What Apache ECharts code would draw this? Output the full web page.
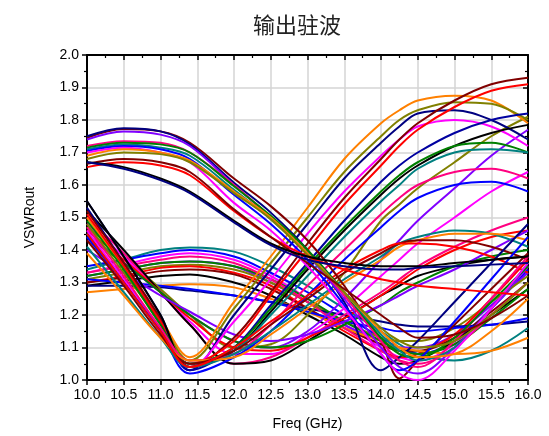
<!DOCTYPE html>
<html><head><meta charset="utf-8">
<script src="https://cdn.jsdelivr.net/npm/echarts@6/dist/echarts.min.js"></script>
<style>html,body{margin:0;padding:0;background:#fff}#c{width:549px;height:436px}</style>
</head><body><div id="c"></div>
<script>
const freq = [10, 10.5, 11, 11.4, 12, 12.5, 13, 13.5, 14, 14.25, 14.5, 15, 15.5, 16];
const yTicks = [1.0,1.1,1.2,1.3,1.4,1.5,1.6,1.7,1.8,1.9,2.0];
const xTicks = [10.0,10.5,11.0,11.5,12.0,12.5,13.0,13.5,14.0,14.5,15.0,15.5,16.0];

// family C: low hump, late dip
const c1  = [1.34,1.37,1.40,1.408,1.395,1.35,1.29,1.22,1.15,1.11,1.08,1.06,1.09,1.16];
const c2  = [1.35,1.37,1.39,1.40,1.38,1.33,1.27,1.20,1.13,1.10,1.08,1.12,1.22,1.34];
const c3  = [1.33,1.355,1.38,1.39,1.37,1.32,1.25,1.17,1.10,1.07,1.06,1.11,1.22,1.35];
const c4  = [1.32,1.34,1.36,1.365,1.35,1.30,1.24,1.17,1.12,1.10,1.10,1.14,1.23,1.33];
const c5  = [1.31,1.33,1.35,1.355,1.34,1.30,1.24,1.18,1.13,1.12,1.12,1.16,1.24,1.32];
const c6  = [1.30,1.32,1.345,1.35,1.33,1.29,1.22,1.15,1.09,1.07,1.08,1.14,1.25,1.37];
const c7  = [1.30,1.315,1.335,1.34,1.325,1.28,1.22,1.16,1.11,1.09,1.09,1.13,1.21,1.30];
const c8  = [1.29,1.305,1.32,1.325,1.30,1.26,1.20,1.14,1.07,1.05,1.06,1.12,1.20,1.28];
const c9  = [1.27,1.28,1.29,1.295,1.285,1.25,1.21,1.16,1.12,1.10,1.09,1.08,1.09,1.13];
const c10 = [1.29,1.29,1.285,1.275,1.26,1.24,1.22,1.20,1.18,1.17,1.165,1.165,1.17,1.18];
const c11 = [1.31,1.30,1.29,1.28,1.26,1.24,1.21,1.18,1.16,1.15,1.15,1.16,1.17,1.19];
const c12 = [1.32,1.34,1.36,1.365,1.35,1.31,1.25,1.18,1.12,1.09,1.08,1.11,1.19,1.28];
const c13 = [1.33,1.35,1.37,1.38,1.36,1.31,1.24,1.16,1.09,1.06,1.05,1.10,1.20,1.30];

// family D: dip near 12 GHz
const d1 = [1.47,1.38,1.28,1.20,1.10,1.11,1.20,1.33,1.49,1.54,1.59,1.67,1.75,1.81];
const d2 = [1.45,1.36,1.27,1.20,1.12,1.10,1.15,1.25,1.37,1.43,1.49,1.59,1.69,1.77];
const d3 = [1.48,1.38,1.27,1.18,1.08,1.08,1.14,1.22,1.32,1.37,1.42,1.50,1.58,1.64];
const d4 = [1.50,1.39,1.27,1.17,1.05,1.07,1.13,1.20,1.27,1.31,1.35,1.41,1.46,1.50];
const d5 = [1.52,1.40,1.27,1.17,1.05,1.06,1.12,1.19,1.26,1.29,1.32,1.35,1.37,1.38];
const d6 = [1.46,1.37,1.27,1.19,1.10,1.09,1.13,1.19,1.26,1.30,1.34,1.40,1.44,1.46];
const d7 = [1.44,1.36,1.27,1.20,1.12,1.10,1.12,1.17,1.23,1.27,1.30,1.35,1.38,1.40];
const d8 = [1.40,1.33,1.26,1.21,1.14,1.12,1.14,1.18,1.23,1.26,1.29,1.34,1.40,1.46];

// family B: dip near 11.4 GHz, high peak later
const b1  = [1.50,1.346,1.19,1.07,1.24,1.38,1.53,1.68,1.79,1.83,1.86,1.875,1.86,1.79];
const b2  = [1.48,1.33,1.18,1.06,1.22,1.36,1.50,1.64,1.75,1.80,1.83,1.855,1.85,1.80];
const b3  = [1.53,1.36,1.18,1.03,1.20,1.34,1.48,1.62,1.73,1.78,1.82,1.83,1.80,1.74];
const b4  = [1.46,1.31,1.16,1.04,1.18,1.31,1.45,1.58,1.69,1.74,1.78,1.80,1.78,1.72];
const b5  = [1.52,1.36,1.19,1.04,1.13,1.27,1.42,1.56,1.68,1.74,1.79,1.86,1.91,1.93];
const b6  = [1.51,1.35,1.18,1.05,1.12,1.26,1.40,1.54,1.66,1.72,1.77,1.84,1.89,1.91];
const b7  = [1.55,1.38,1.20,1.03,1.10,1.23,1.36,1.49,1.61,1.66,1.70,1.76,1.80,1.82];
const b8  = [1.55,1.38,1.20,1.04,1.09,1.21,1.34,1.46,1.57,1.62,1.66,1.72,1.76,1.785];
const b9  = [1.49,1.34,1.17,1.05,1.10,1.22,1.35,1.47,1.58,1.63,1.67,1.72,1.73,1.70];
const b10 = [1.45,1.30,1.15,1.05,1.09,1.20,1.32,1.44,1.55,1.60,1.65,1.70,1.71,1.70];
const b11 = [1.47,1.32,1.16,1.06,1.08,1.17,1.29,1.40,1.51,1.56,1.60,1.64,1.65,1.62];
const b12 = [1.44,1.30,1.15,1.02,1.07,1.15,1.26,1.37,1.47,1.52,1.56,1.60,1.61,1.58];
const b13 = [1.41,1.27,1.13,1.04,1.08,1.15,1.23,1.31,1.38,1.42,1.44,1.46,1.45,1.41];
const b14 = [1.39,1.26,1.13,1.06,1.07,1.14,1.22,1.30,1.37,1.41,1.43,1.45,1.45,1.43];
const b15 = [1.43,1.29,1.14,1.05,1.09,1.17,1.25,1.33,1.39,1.42,1.43,1.43,1.41,1.37];
const b16 = [1.45,1.30,1.15,1.04,1.10,1.18,1.26,1.34,1.40,1.42,1.42,1.41,1.38,1.33];

// family A: high start, dip near 14-14.5 GHz
const a1  = [1.745,1.772,1.765,1.73,1.62,1.535,1.43,1.29,1.12,1.005,1.06,1.17,1.28,1.39];
const a2  = [1.75,1.775,1.765,1.725,1.607,1.515,1.40,1.24,1.03,1.07,1.12,1.24,1.36,1.48];
const a3  = [1.74,1.765,1.755,1.72,1.60,1.50,1.385,1.25,1.10,1.04,1.02,1.10,1.22,1.35];
const a4  = [1.72,1.735,1.73,1.70,1.60,1.50,1.39,1.26,1.12,1.06,1.04,1.12,1.25,1.38];
const a5  = [1.715,1.73,1.725,1.70,1.596,1.505,1.40,1.27,1.13,1.08,1.07,1.13,1.24,1.35];
const a6  = [1.71,1.725,1.715,1.69,1.585,1.495,1.39,1.27,1.14,1.09,1.06,1.10,1.22,1.36];
const a7  = [1.705,1.72,1.71,1.68,1.57,1.48,1.37,1.23,1.08,1.03,1.06,1.18,1.31,1.44];
const a8  = [1.70,1.715,1.70,1.67,1.545,1.46,1.35,1.22,1.08,1.02,1.00,1.09,1.22,1.36];
const a9  = [1.69,1.71,1.70,1.675,1.58,1.50,1.39,1.27,1.15,1.10,1.07,1.08,1.15,1.25];
const a10 = [1.68,1.70,1.695,1.67,1.575,1.495,1.385,1.27,1.16,1.12,1.10,1.12,1.20,1.30];
const a11 = [1.655,1.67,1.66,1.63,1.52,1.44,1.38,1.34,1.31,1.30,1.29,1.28,1.27,1.26];
const a12 = [1.665,1.68,1.67,1.64,1.525,1.44,1.36,1.28,1.20,1.16,1.13,1.14,1.19,1.26];
const a13 = [1.67,1.655,1.62,1.58,1.49,1.42,1.38,1.36,1.35,1.35,1.35,1.36,1.37,1.38];
const a14 = [1.67,1.65,1.615,1.575,1.485,1.415,1.37,1.35,1.34,1.34,1.345,1.35,1.355,1.36];

const curves = [
  ['c1',c1,'#008080'],['c2',c2,'#0000FF'],['c3',c3,'#FF00FF'],['c4',c4,'#8000FF'],
  ['c5',c5,'#808000'],['c6',c6,'#FF0000'],['c7',c7,'#800000'],['c8',c8,'#000000'],
  ['c9',c9,'#FF8000'],['c10',c10,'#000080'],['c11',c11,'#0000FF'],['c12',c12,'#008000'],
  ['c13',c13,'#FF0080'],
  ['d1',d1,'#808000'],['d2',d2,'#8000FF'],['d3',d3,'#FF00FF'],['d4',d4,'#FF0080'],
  ['d5',d5,'#000000'],['d6',d6,'#FF0000'],['d7',d7,'#008000'],['d8',d8,'#8000FF'],
  ['b1',b1,'#FF8000'],['b2',b2,'#808000'],['b3',b3,'#000080'],['b4',b4,'#FF00FF'],
  ['b5',b5,'#800000'],['b6',b6,'#FF0000'],['b7',b7,'#0000A0'],['b8',b8,'#000000'],
  ['b9',b9,'#008000'],['b10',b10,'#008080'],['b11',b11,'#FF0080'],['b12',b12,'#0000FF'],
  ['b13',b13,'#008080'],['b14',b14,'#FF8000'],['b15',b15,'#800000'],['b16',b16,'#FF0000'],
  ['a1',a1,'#800000'],['a2',a2,'#000080'],['a3',a3,'#8000FF'],['a4',a4,'#FF0080'],
  ['a5',a5,'#008000'],['a6',a6,'#008080'],['a7',a7,'#0000FF'],['a8',a8,'#FF00FF'],
  ['a9',a9,'#FF8000'],['a10',a10,'#808000'],['a11',a11,'#FF0000'],['a12',a12,'#800000'],
  ['a13',a13,'#000000'],['a14',a14,'#000080']
];

const font = 'Liberation Sans, Arial, sans-serif';
const chart = echarts.init(document.getElementById('c'), null, {renderer:'canvas'});
const axisCommon = {
  type:'value',
  axisLine:{show:true, onZero:false, lineStyle:{color:'#000', width:2}},
  axisTick:{show:true, length:5, lineStyle:{color:'#000', width:1.5}},
  minorTick:{show:true, splitNumber:2, length:3, lineStyle:{color:'#000', width:1.2}},
};
chart.setOption({
  animation:false,
  backgroundColor:'#fff',
  title:{text:'输出驻波', left:248, top:9,
    textStyle:{fontFamily:'Noto Sans CJK SC', fontSize:22, fontWeight:'normal', color:'#222'}},
  grid:{left:87, right:21, top:55, bottom:55, containLabel:false},
  xAxis:[
    Object.assign({}, axisCommon, {position:'bottom', min:xTicks[0], max:xTicks[xTicks.length-1], interval:0.5,
      name:'Freq (GHz)', nameLocation:'middle', nameGap:37,
      nameTextStyle:{fontFamily:font, fontSize:14, color:'#000'},
      axisLabel:{fontFamily:font, fontSize:14, color:'#000', margin:8, formatter:v=>v.toFixed(1)},
      splitLine:{show:true, lineStyle:{color:'#d4d4d4', width:1.5}}}),
    Object.assign({}, axisCommon, {position:'top', min:xTicks[0], max:xTicks[xTicks.length-1], interval:0.5,
      axisTick:{show:true, inside:true, length:5, lineStyle:{color:'#000', width:1.5}},
      minorTick:{show:true, splitNumber:2, length:3, lineStyle:{color:'#000', width:1.2}},
      axisLabel:{show:false}, splitLine:{show:false}})
  ],
  yAxis:[
    Object.assign({}, axisCommon, {position:'left', min:yTicks[0], max:yTicks[yTicks.length-1], interval:0.1,
      name:'VSWRout', nameLocation:'middle', nameGap:50, nameRotate:90,
      nameTextStyle:{fontFamily:font, fontSize:14, color:'#000'},
      axisLabel:{fontFamily:font, fontSize:14, color:'#000', margin:8, formatter:v=>v.toFixed(1)},
      splitLine:{show:true, lineStyle:{color:'#d4d4d4', width:1.5}}}),
    Object.assign({}, axisCommon, {position:'right', min:yTicks[0], max:yTicks[yTicks.length-1], interval:0.1,
      axisTick:{show:true, inside:true, length:5, lineStyle:{color:'#000', width:1.5}},
      minorTick:{show:true, splitNumber:2, length:3, lineStyle:{color:'#000', width:1.2}},
      axisLabel:{show:false}, splitLine:{show:false}})
  ],
  series: curves.map(([n, vals, col]) => ({
    name:n, type:'line', xAxisIndex:0, yAxisIndex:0,
    data: freq.map((f,i)=>[f, vals[i]]),
    showSymbol:false, smooth:0.35, clip:true,
    lineStyle:{color:col, width:2}
  }))
});
</script></body></html>
